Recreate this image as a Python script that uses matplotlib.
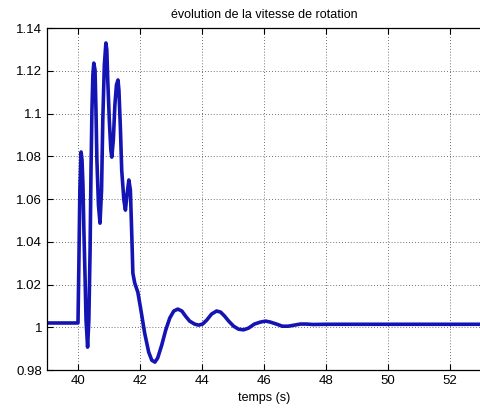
import matplotlib
matplotlib.use('Agg')
from matplotlib import pyplot as plt

# time (s) and rotation speed (p.u.)
temps = [39.00, 40.00, 40.03, 40.06, 40.10, 40.13, 40.16, 40.19, 40.23, 40.26,
         40.31, 40.35, 40.39, 40.42, 40.45, 40.48, 40.51, 40.55, 40.58, 40.61,
         40.66, 40.71, 40.76, 40.80, 40.85, 40.90, 40.93, 40.96, 41.01, 41.06,
         41.09, 41.14, 41.19, 41.24, 41.29, 41.32, 41.37, 41.41, 41.48, 41.53,
         41.58, 41.64, 41.69, 41.74, 41.77, 41.83, 41.93, 42.03, 42.15, 42.28,
         42.38, 42.48, 42.57, 42.70, 42.83, 42.96, 43.09, 43.22, 43.35, 43.47,
         43.60, 43.76, 43.89, 44.02, 44.15, 44.31, 44.47, 44.60, 44.73, 44.86,
         45.02, 45.18, 45.34, 45.50, 45.69, 45.88, 46.05, 46.21, 46.40, 46.59,
         46.78, 46.98, 47.17, 47.36, 47.59, 48.00, 49.00, 50.00, 51.00, 52.00,
         53.00]
vitesse = [1.0020, 1.0020, 1.0314, 1.0642, 1.0820, 1.0782, 1.0665, 1.0455, 1.0221, 1.0033,
           0.9907, 1.0033, 1.0361, 1.0735, 1.1016, 1.1180, 1.1236, 1.1203, 1.1016, 1.0782,
           1.0572, 1.0487, 1.0642, 1.0969, 1.1227, 1.1330, 1.1297, 1.1157, 1.0969, 1.0829,
           1.0796, 1.0876, 1.1040, 1.1133, 1.1157, 1.1110, 1.0923, 1.0735, 1.0595, 1.0548,
           1.0618, 1.0689, 1.0642, 1.0408, 1.0253, 1.0207, 1.0164, 1.0080, 0.9973, 0.9884,
           0.9846, 0.9837, 0.9856, 0.9916, 0.9987, 1.0043, 1.0076, 1.0085, 1.0076, 1.0052,
           1.0029, 1.0015, 1.0010, 1.0015, 1.0033, 1.0062, 1.0076, 1.0071, 1.0052, 1.0029,
           1.0005, 0.9991, 0.9988, 0.9996, 1.0015, 1.0024, 1.0029, 1.0024, 1.0015, 1.0005,
           1.0005, 1.0010, 1.0015, 1.0015, 1.0013, 1.0014, 1.0014, 1.0014, 1.0014, 1.0014,
           1.0014]

xticks = [40, 42, 44, 46, 48, 50, 52]
yticks = [0.98, 1.0, 1.02, 1.04, 1.06, 1.08, 1.1, 1.12, 1.14]
ylabels = ['0.98', '1', '1.02', '1.04', '1.06', '1.08', '1.1', '1.12', '1.14']

plt.rcParams['font.family'] = ['Liberation Sans', 'DejaVu Sans']

fig = plt.figure(figsize=(4.81, 4.15), dpi=100)
ax = fig.add_axes([0.0977, 0.1084, 0.9023, 0.8241])
ax.plot(temps, vitesse, color='#1414b4', linewidth=2.6)
ax.set_xlim(39, 53)
ax.set_ylim(0.98, 1.14)
ax.set_xticks(xticks)
ax.set_yticks(yticks)
ax.set_yticklabels(ylabels)
ax.grid(True, color='#444444', linestyle=(0, (1, 2.5)), linewidth=0.6)
ax.tick_params(direction='in', top=True, labelsize=9.5, length=4, width=0.8)
ax.spines['right'].set_visible(False)
for s in ['left', 'top', 'bottom']:
    ax.spines[s].set_linewidth(0.9)
ax.set_xlabel('temps (s)', fontsize=9, labelpad=4)
ax.set_title('évolution de la vitesse de rotation', fontsize=9, pad=7)
fig.savefig('out.png', dpi=100)
plt.close(fig)
